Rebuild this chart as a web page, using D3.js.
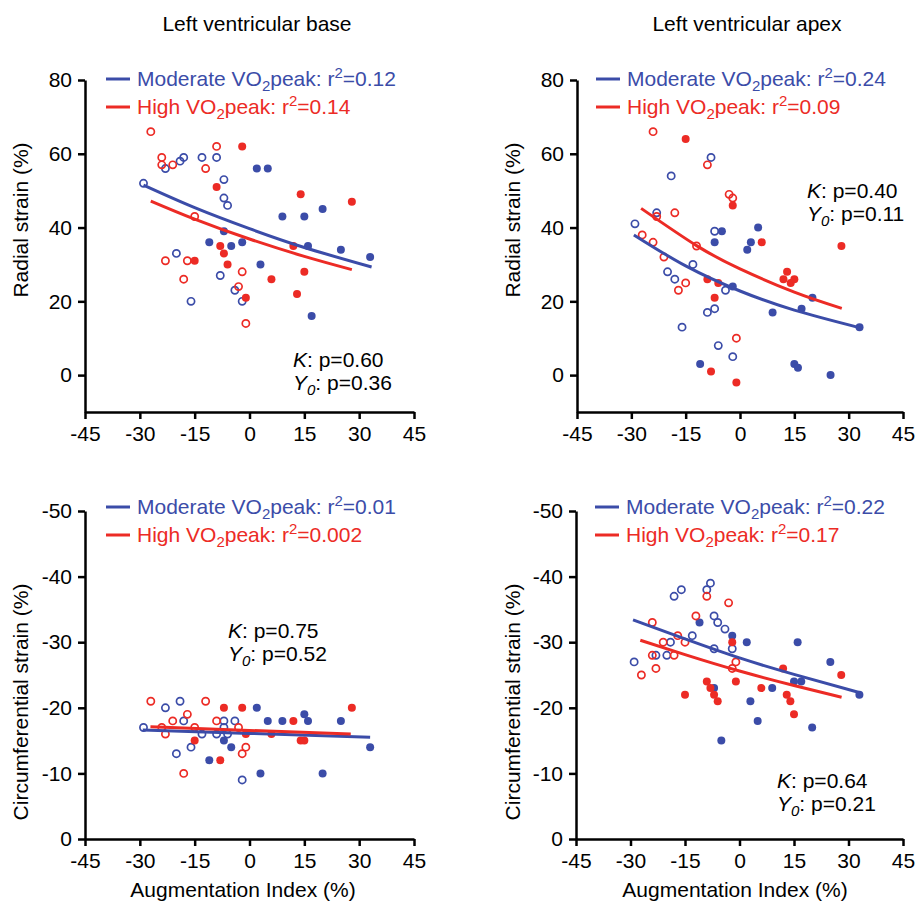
<!DOCTYPE html>
<html>
<head>
<meta charset="utf-8">
<script src="https://cdn.jsdelivr.net/npm/d3@7"></script>
<style>
  body { margin: 0; background: #fff; }
  svg text { font-family: "Liberation Sans", Arial, Helvetica, sans-serif; }
</style>
</head>
<body>
<svg id="chart" width="915" height="903"></svg>
<script>
// tick values
const xTicks = [-45, -30, -15, 0, 15, 30, 45];
const radialTicks = [0, 20, 40, 60, 80];
const circTicks = [0, -10, -20, -30, -40, -50];

// points: [augmentation index, strain, filled (1) / open (0)]
const baseRadialModerate = [
  [-29, 52, 0], [-23, 56, 0], [-19, 58, 0], [-18, 59, 0], [-13, 59, 0], [-9, 59, 0],
  [-7, 53, 0], [-7, 48, 0], [-6, 46, 0], [-20, 33, 0], [-8, 27, 0], [-4, 23, 0],
  [-16, 20, 0], [-2, 20, 0],
  [2, 56, 1], [5, 56, 1], [20, 45, 1], [9, 43, 1], [15, 43, 1], [-7, 39, 1],
  [-11, 36, 1], [-5, 35, 1], [-2, 36, 1], [16, 35, 1], [25, 34, 1], [33, 32, 1],
  [3, 30, 1], [17, 16, 1],
];
const baseRadialHigh = [
  [-27, 66, 0], [-24, 59, 0], [-24, 57, 0], [-21, 57, 0], [-12, 56, 0], [-9, 62, 0],
  [-15, 43, 0], [-23, 31, 0], [-17, 31, 0], [-2, 28, 0], [-18, 26, 0], [-3, 24, 0],
  [-1, 14, 0],
  [-2, 62, 1], [-9, 51, 1], [14, 49, 1], [28, 47, 1], [-8, 35, 1], [-7, 33, 1],
  [12, 35, 1], [-15, 31, 1], [-6, 30, 1], [15, 28, 1], [6, 26, 1], [13, 22, 1],
  [-1, 21, 1],
];
const apexRadialModerate = [
  [-8, 59, 0], [-19, 54, 0], [-23, 44, 0], [-29, 41, 0], [-7, 39, 0], [-13, 30, 0],
  [-20, 28, 0], [-18, 26, 0], [-4, 23, 0], [-9, 17, 0], [-7, 18, 0], [-16, 13, 0],
  [-6, 8, 0], [-2, 5, 0],
  [-5, 39, 1], [-7, 36, 1], [5, 40, 1], [3, 36, 1], [2, 34, 1], [-2, 24, 1],
  [9, 17, 1], [17, 18, 1], [20, 21, 1], [-11, 3, 1], [15, 3, 1], [16, 2, 1],
  [25, 0, 1], [33, 13, 1],
];
const apexRadialHigh = [
  [-24, 66, 0], [-9, 57, 0], [-3, 49, 0], [-2, 48, 0], [-23, 43, 0], [-18, 44, 0],
  [-27, 38, 0], [-24, 36, 0], [-21, 32, 0], [-12, 35, 0], [-15, 25, 0], [-17, 23, 0],
  [-1, 10, 0],
  [-15, 64, 1], [-2, 46, 1], [6, 36, 1], [28, 35, 1], [-9, 26, 1], [-6, 25, 1],
  [-7, 21, 1], [13, 28, 1], [12, 26, 1], [14, 25, 1], [15, 26, 1], [-8, 1, 1],
  [-1, -2, 1],
];
const baseCircModerate = [
  [-19, -21, 0], [-23, -20, 0], [-18, -18, 0], [-7, -18, 0], [-4, -18, 0], [-29, -17, 0],
  [-7, -17, 0], [-13, -16, 0], [-9, -16, 0], [-6, -16, 0], [-16, -14, 0], [-20, -13, 0],
  [-2, -9, 0],
  [2, -20, 1], [15, -19, 1], [5, -18, 1], [9, -18, 1], [16, -18, 1], [25, -18, 1],
  [-7, -15, 1], [-5, -14, 1], [33, -14, 1], [-11, -12, 1], [3, -10, 1], [20, -10, 1],
];
const baseCircHigh = [
  [-27, -21, 0], [-12, -21, 0], [-17, -19, 0], [-21, -18, 0], [-9, -18, 0], [-24, -17, 0],
  [-15, -17, 0], [-3, -17, 0], [-23, -16, 0], [-1, -14, 0], [-2, -13, 0], [-18, -10, 0],
  [-7, -20, 1], [-2, -20, 1], [28, -20, 1], [12, -18, 1], [-1, -16, 1], [6, -16, 1],
  [-15, -15, 1], [14, -15, 1], [15, -15, 1], [-8, -12, 1],
];
const apexCircModerate = [
  [-8, -39, 0], [-9, -38, 0], [-16, -38, 0], [-18, -37, 0], [-7, -34, 0], [-6, -33, 0],
  [-4, -32, 0], [-13, -31, 0], [-19, -30, 0], [-7, -29, 0], [-2, -29, 0], [-23, -28, 0],
  [-20, -28, 0], [-29, -27, 0],
  [-11, -33, 1], [-2, -31, 1], [2, -30, 1], [16, -30, 1], [25, -27, 1], [15, -24, 1],
  [17, -24, 1], [-7, -23, 1], [9, -23, 1], [3, -21, 1], [33, -22, 1], [5, -18, 1],
  [20, -17, 1], [-5, -15, 1],
];
const apexCircHigh = [
  [-9, -37, 0], [-3, -36, 0], [-12, -34, 0], [-24, -33, 0], [-17, -31, 0], [-21, -30, 0],
  [-15, -30, 0], [-24, -28, 0], [-18, -28, 0], [-1, -27, 0], [-2, -26, 0], [-23, -26, 0],
  [-27, -25, 0],
  [-2, -30, 1], [12, -26, 1], [28, -25, 1], [-9, -24, 1], [-1, -24, 1], [-8, -23, 1],
  [6, -23, 1], [-15, -22, 1], [-7, -22, 1], [13, -22, 1], [-6, -21, 1], [14, -21, 1],
  [15, -19, 1],
];

// fitted curves, points
const baseRadialModerateFit = [[-29, 51.5], [-15, 45.4], [0, 39.7], [15, 34.6], [33.4, 29.3]];
const baseRadialHighFit = [[-27, 47.2], [-15, 42.3], [0, 36.9], [15, 32.2], [28, 28.6]];
const apexRadialModerateFit = [[-29.3, 38], [-15, 29.6], [0, 22.8], [15, 17.6], [33.2, 12.8]];
const apexRadialHighFit = [[-27.3, 45.2], [-12, 35.1], [0, 28.8], [15, 22.5], [28.1, 18.1]];
const baseCircModerateFit = [[-29.2, -16.6], [0, -16.1], [33, -15.5]];
const baseCircHighFit = [[-27.1, -17.1], [0, -16.55], [27.7, -16]];
const apexCircModerateFit = [[-29.3, -33.4], [-15, -30.5], [0, -27.6], [15, -25.1], [33.2, -22.3]];
const apexCircHighFit = [[-27.3, -30.3], [-15, -28.1], [0, -25.6], [15, -23.4], [28.1, -21.6]];

// legend r² and model p values
const r2Moderate = ["0.12", "0.24", "0.01", "0.22"];
const r2High = ["0.14", "0.09", "0.002", "0.17"];
const pK = ["0.60", "0.40", "0.75", "0.64"];
const pY0 = ["0.36", "0.11", "0.52", "0.21"];

const blue = "#3b4ca8";
const red = "#ec2b25";
const fontSize = 21;

const svg = d3.select("#chart");
svg.append("rect").attr("width", 915).attr("height", 903).attr("fill", "#fff");

const panels = [
  { mod: baseRadialModerate, high: baseRadialHigh, modFit: baseRadialModerateFit, highFit: baseRadialHighFit,
    xr: [85, 414], yDomain: [-10, 80], yr: [412, 80], yTicks: radialTicks,
    legend: [106, 79], stat: [293, 367], yLabel: "Radial strain (%)", yLabelPos: [28, 220] },
  { mod: apexRadialModerate, high: apexRadialHigh, modFit: apexRadialModerateFit, highFit: apexRadialHighFit,
    xr: [577, 903], yDomain: [-10, 80], yr: [412, 80], yTicks: radialTicks,
    legend: [596, 79], stat: [807, 198], yLabel: "Radial strain (%)", yLabelPos: [520, 220] },
  { mod: baseCircModerate, high: baseCircHigh, modFit: baseCircModerateFit, highFit: baseCircHighFit,
    xr: [85, 414], yDomain: [0, -50], yr: [839, 511], yTicks: circTicks,
    legend: [106, 507], stat: [228, 638], yLabel: "Circumferential strain (%)", yLabelPos: [28, 702],
    xLabelX: 243 },
  { mod: apexCircModerate, high: apexCircHigh, modFit: apexCircModerateFit, highFit: apexCircHighFit,
    xr: [576, 903], yDomain: [0, -50], yr: [839, 511], yTicks: circTicks,
    legend: [595, 507], stat: [777, 788], yLabel: "Circumferential strain (%)", yLabelPos: [520, 702],
    xLabelX: 735 },
];

// column titles
svg.append("text").attr("x", 257).attr("y", 31).attr("text-anchor", "middle")
  .style("font-size", fontSize + "px").text("Left ventricular base");
svg.append("text").attr("x", 747).attr("y", 31).attr("text-anchor", "middle")
  .style("font-size", fontSize + "px").text("Left ventricular apex");

panels.forEach((p, i) => {
  const x = d3.scaleLinear().domain([-45, 45]).range(p.xr);
  const y = d3.scaleLinear().domain(p.yDomain).range(p.yr);
  const g = svg.append("g");

  // axes
  const xAxis = g.append("g")
    .attr("transform", `translate(0,${p.yr[0]})`)
    .call(d3.axisBottom(x).tickValues(xTicks).tickFormat((d) => String(d))
      .tickSize(7).tickSizeOuter(0).tickPadding(7));
  const yAxis = g.append("g")
    .attr("transform", `translate(${p.xr[0]},0)`)
    .call(d3.axisLeft(y).tickValues(p.yTicks).tickFormat((d) => String(d))
      .tickSize(7).tickSizeOuter(0).tickPadding(6));
  [xAxis, yAxis].forEach((a) => {
    a.select(".domain").attr("stroke", "#000").attr("stroke-width", 2.5);
    a.selectAll(".tick line").attr("stroke", "#000").attr("stroke-width", 2.5);
    a.selectAll(".tick text").attr("fill", "#000").style("font-size", fontSize + "px")
      .style("font-family", '"Liberation Sans", Arial, sans-serif');
  });

  // points
  [[p.mod, blue], [p.high, red]].forEach(([pts, col]) => {
    g.append("g").selectAll("circle")
      .data(pts)
      .join("circle")
      .attr("cx", (d) => x(d[0]))
      .attr("cy", (d) => y(d[1]))
      .attr("r", (d) => (d[2] ? 4 : 3.6))
      .attr("fill", (d) => (d[2] ? col : "none"))
      .attr("stroke", col)
      .attr("stroke-width", (d) => (d[2] ? 0 : 1.7));
  });

  // fit curves
  const line = d3.line().x((d) => x(d[0])).y((d) => y(d[1])).curve(d3.curveNatural);
  g.append("path").datum(p.modFit).attr("d", line)
    .attr("fill", "none").attr("stroke", blue).attr("stroke-width", 3);
  g.append("path").datum(p.highFit).attr("d", line)
    .attr("fill", "none").attr("stroke", red).attr("stroke-width", 3);

  // legend
  [[blue, "Moderate", r2Moderate[i], 0], [red, "High", r2High[i], 28]].forEach(([col, name, r2, off]) => {
    const ly = p.legend[1] + off;
    g.append("line")
      .attr("x1", p.legend[0]).attr("x2", p.legend[0] + 24)
      .attr("y1", ly).attr("y2", ly)
      .attr("stroke", col).attr("stroke-width", 3);
    const t = g.append("text")
      .attr("x", p.legend[0] + 31).attr("y", ly + 7)
      .attr("fill", col).style("font-size", fontSize + "px");
    t.append("tspan").text(`${name} VO`);
    t.append("tspan").attr("dy", 5).style("font-size", "15px").text("2");
    t.append("tspan").attr("dy", -5).text("peak: r");
    t.append("tspan").attr("dy", -8).style("font-size", "15px").text("2");
    t.append("tspan").attr("dy", 8).text(`=${r2}`);
  });

  // model p values
  const k = g.append("text").attr("x", p.stat[0]).attr("y", p.stat[1])
    .style("font-size", fontSize + "px");
  k.append("tspan").style("font-style", "italic").text("K");
  k.append("tspan").text(`: p=${pK[i]}`);
  const y0 = g.append("text").attr("x", p.stat[0]).attr("y", p.stat[1] + 23)
    .style("font-size", fontSize + "px");
  y0.append("tspan").style("font-style", "italic").text("Y");
  y0.append("tspan").attr("dy", 5).style("font-style", "italic").style("font-size", "15px").text("0");
  y0.append("tspan").attr("dy", -5).text(`: p=${pY0[i]}`);

  // axis titles
  g.append("text")
    .attr("transform", `translate(${p.yLabelPos[0]},${p.yLabelPos[1]}) rotate(-90)`)
    .attr("text-anchor", "middle")
    .style("font-size", fontSize + "px")
    .text(p.yLabel);
  if (p.xLabelX) {
    g.append("text").attr("x", p.xLabelX).attr("y", 897).attr("text-anchor", "middle")
      .style("font-size", fontSize + "px").text("Augmentation Index (%)");
  }
});
</script>
</body>
</html>
